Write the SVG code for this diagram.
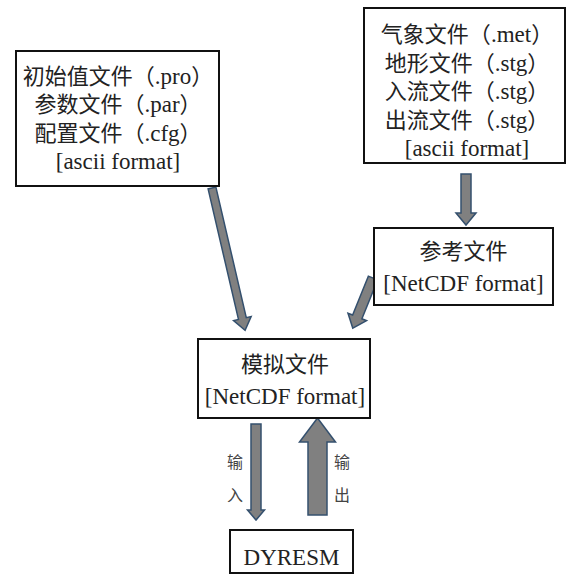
<svg xmlns="http://www.w3.org/2000/svg" width="568" height="581" viewBox="0 0 568 581">
<style>
.box{fill:#fff;stroke:#111;stroke-width:2}
.t{font-family:"Liberation Serif","Times New Roman","Noto Sans CJK SC",serif;font-size:22px;fill:#222;text-anchor:middle}
.l{font-size:23px}
.lbl{font-family:"Liberation Serif","Noto Sans CJK SC",serif;font-size:16px;fill:#444;text-anchor:middle}
.arr{fill:#808080;stroke:#34506e;stroke-width:1.5;stroke-linejoin:miter}
</style>
<rect width="568" height="581" fill="#fff"/>
<g id="connectors">
<polygon class="arr" transform="translate(212,188) rotate(76.9)" points="0,-4 134,-4 134,-9 146,0 134,9 134,4 0,4"/>
<polygon class="arr" transform="translate(466,174) rotate(90)" points="0,-5 39,-5 39,-10 51,0 39,10 39,5 0,5"/>
<polygon class="arr" transform="translate(373,278) rotate(112)" points="0,-5 42,-5 42,-10 54,0 42,10 42,5 0,5"/>
<polygon class="arr" transform="translate(256,424) rotate(90)" points="0,-5 86,-5 86,-8.5 96,0 86,8.5 86,5 0,5"/>
<polygon class="arr" transform="translate(317.5,515) rotate(-90)" points="0,-9.5 73,-9.5 73,-18 97,0 73,18 73,9.5 0,9.5"/>
<text class="lbl" x="235" y="468">输</text>
<text class="lbl" x="235" y="501">入</text>
<text class="lbl" x="342" y="468">输</text>
<text class="lbl" x="342" y="501">出</text>
</g>
<g id="node-ascii-left">
<rect class="box" x="16" y="51" width="203" height="135"/>
<text class="t" x="118" y="83.5">初始值文件（<tspan class="l">.pro</tspan>）</text>
<text class="t" x="118" y="112">参数文件（<tspan class="l">.par</tspan>）</text>
<text class="t" x="118" y="140.5">配置文件（<tspan class="l">.cfg</tspan>）</text>
<text class="t l" x="118" y="169">[ascii format]</text>
</g>
<g id="node-ascii-right">
<rect class="box" x="364" y="8" width="201" height="155"/>
<text class="t" x="467" y="42">气象文件（<tspan class="l">.met</tspan>）</text>
<text class="t" x="467" y="70.5">地形文件（<tspan class="l">.stg</tspan>）</text>
<text class="t" x="467" y="99">入流文件（<tspan class="l">.stg</tspan>）</text>
<text class="t" x="467" y="127.5">出流文件（<tspan class="l">.stg</tspan>）</text>
<text class="t l" x="467" y="156">[ascii format]</text>
</g>
<g id="node-reference">
<rect class="box" x="374" y="228" width="179" height="77"/>
<text class="t" x="463.5" y="259">参考文件</text>
<text class="t l" x="463.5" y="291">[NetCDF format]</text>
</g>
<g id="node-simulation">
<rect class="box" x="198" y="339" width="172" height="79"/>
<text class="t" x="285" y="372">模拟文件</text>
<text class="t l" x="285" y="404">[NetCDF format]</text>
</g>
<g id="node-dyresm">
<rect class="box" x="230" y="530" width="123" height="43"/>
<text class="t l" x="291.5" y="565">DYRESM</text>
</g>
</svg>
